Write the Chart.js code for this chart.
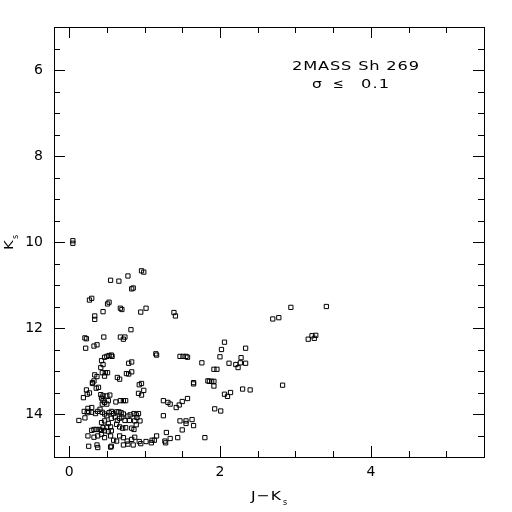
<!DOCTYPE html>
<html>
<head>
<meta charset="utf-8">
<script src="https://cdn.jsdelivr.net/npm/chart.js@4.4.1/dist/chart.umd.min.js"></script>
<style>
  html, body { margin: 0; padding: 0; background: #fff; }
  #wrap { width: 512px; height: 512px; }
</style>
</head>
<body>
<div id="wrap"><canvas id="cmd"></canvas></div>
<script>
// J-Ks colour of each star
const jk = [
  0.05, 0.05, 0.55, 0.66, 0.78, 0.96, 0.99, 0.83, 0.85, 0.27,
  0.30, 0.51, 0.53, 0.68, 0.70, 0.95, 1.02, 0.45, 0.34, 0.34,
  0.82, 1.39, 1.41, 0.21, 0.23, 0.46, 0.68, 0.72, 0.74, 0.22,
  0.33, 0.37, 0.43, 0.47, 0.50, 0.53, 0.56, 0.57, 1.16, 1.15,
  1.47, 1.51, 1.55, 1.57, 0.42, 0.45, 0.79, 0.83, 0.44, 0.48,
  0.51, 0.47, 0.76, 0.79, 0.83, 0.64, 0.67, 0.34, 0.37, 0.31,
  0.33, 0.31, 0.36, 0.39, 0.93, 0.96, 0.23, 0.27, 0.24, 0.19,
  0.42, 0.45, 0.50, 0.54, 0.92, 0.96, 0.99, 0.68, 0.72, 0.75,
  0.62, 0.43, 0.45, 0.47, 0.50, 0.44, 0.52, 0.30, 0.25, 0.20,
  0.24, 0.26, 0.30, 0.35, 0.38, 0.41, 0.13, 0.21, 0.44, 0.47,
  0.50, 0.53, 0.56, 0.59, 0.63, 0.66, 0.69, 0.72, 0.78, 0.81,
  0.86, 0.89, 0.92, 0.90, 0.87, 0.80, 0.56, 0.61, 0.64, 0.67,
  0.70, 0.74, 0.47, 0.52, 0.50, 0.55, 0.43, 0.45, 0.63, 0.67,
  0.71, 0.75, 0.83, 0.86, 0.89, 0.94, 0.30, 0.33, 0.36, 0.40,
  0.43, 0.47, 0.52, 0.56, 0.25, 0.33, 0.38, 0.43, 0.47, 0.55,
  0.59, 0.63, 0.67, 0.72, 0.77, 0.83, 0.87, 0.93, 1.02, 1.09,
  1.13, 1.16, 1.27, 1.28, 1.34, 1.44, 0.26, 0.37, 0.38, 0.55,
  0.56, 0.72, 0.78, 0.85, 1.25, 1.31, 1.34, 1.42, 1.46, 1.50,
  1.57, 1.25, 1.47, 1.55, 1.55, 1.50, 1.29, 1.63, 1.65, 1.80,
  2.94, 3.41, 2.70, 2.78, 3.17, 3.22, 3.25, 3.27, 2.06, 2.02,
  2.34, 2.00, 2.28, 1.76, 2.12, 2.21, 2.24, 2.27, 2.34, 1.92,
  1.96, 1.84, 1.86, 1.89, 1.92, 1.92, 1.65, 1.65, 2.30, 2.40,
  2.83, 2.06, 2.10, 2.14, 1.93, 2.01, 1.10, 0.95
];
// Ks magnitude of each star
const ks = [
  9.97, 10.03, 10.89, 10.91, 10.79, 10.67, 10.70, 11.09, 11.07, 11.35,
  11.31, 11.44, 11.40, 11.54, 11.57, 11.63, 11.54, 11.62, 11.72, 11.80,
  12.04, 11.64, 11.72, 12.23, 12.25, 12.21, 12.21, 12.26, 12.21, 12.47,
  12.42, 12.39, 12.76, 12.68, 12.66, 12.64, 12.63, 12.66, 12.63, 12.60,
  12.66, 12.66, 12.66, 12.68, 12.92, 12.85, 12.82, 12.79, 13.04, 13.04,
  13.04, 13.12, 13.06, 13.07, 13.02, 13.15, 13.19, 13.09, 13.13, 13.27,
  13.23, 13.29, 13.40, 13.38, 13.32, 13.29, 13.44, 13.51, 13.54, 13.62,
  13.55, 13.58, 13.58, 13.56, 13.52, 13.56, 13.45, 13.69, 13.69, 13.69,
  13.72, 13.63, 13.69, 13.73, 13.77, 13.77, 13.69, 13.85, 13.87, 13.94,
  13.97, 13.94, 13.96, 13.99, 13.94, 13.89, 14.15, 14.09, 13.96, 14.00,
  14.04, 13.97, 13.94, 13.99, 13.95, 13.95, 13.97, 14.00, 14.05, 14.02,
  13.99, 14.02, 13.99, 14.08, 14.16, 14.15, 14.10, 14.07, 14.15, 14.10,
  14.07, 14.15, 14.16, 14.22, 14.30, 14.30, 14.20, 14.32, 14.24, 14.30,
  14.33, 14.32, 14.33, 14.36, 14.25, 14.16, 14.38, 14.36, 14.36, 14.36,
  14.38, 14.39, 14.41, 14.39, 14.51, 14.54, 14.51, 14.47, 14.55, 14.51,
  14.61, 14.63, 14.51, 14.55, 14.63, 14.59, 14.54, 14.64, 14.64, 14.67,
  14.61, 14.51, 14.63, 14.67, 14.57, 14.55, 14.75, 14.72, 14.78, 14.77,
  14.75, 14.72, 14.70, 14.72, 13.69, 13.73, 13.77, 13.85, 13.79, 13.71,
  13.64, 14.04, 14.16, 14.16, 14.22, 14.37, 14.43, 14.13, 14.27, 14.55,
  11.52, 11.50, 11.79, 11.76, 12.26, 12.18, 12.24, 12.17, 12.33, 12.50,
  12.47, 12.67, 12.69, 12.81, 12.82, 12.85, 12.92, 12.81, 12.82, 12.96,
  12.96, 13.23, 13.24, 13.24, 13.24, 13.35, 13.27, 13.30, 13.42, 13.44,
  13.33, 13.54, 13.59, 13.50, 13.88, 13.93, 14.61, 14.69
];

const xTicks = [0, 2, 4];
const yTicks = [6, 8, 10, 12, 14];

const FONT = '"DejaVu Sans", sans-serif';

// wide, plotter-like text: stretch glyphs a bit, spread the rest with spacing
function wideText(ctx, str, x, y, width, sx) {
  ctx.save();
  ctx.translate(x, y);
  ctx.scale(sx, 1);
  ctx.letterSpacing = '0px';
  const w = ctx.measureText(str).width;
  const gap = str.length > 1 ? Math.max(0, (width / sx - w) / (str.length - 1)) : 0;
  ctx.letterSpacing = gap + 'px';
  ctx.fillText(str, 0, 0);
  ctx.restore();
}

const framePlugin = {
  id: 'frame',
  afterDraw(chart) {
    const { ctx, chartArea: a } = chart;
    const xs = chart.scales.x, ys = chart.scales.y;
    ctx.save();
    ctx.strokeStyle = '#000';
    ctx.lineWidth = 1;
    ctx.strokeRect(Math.round(a.left) + 0.5, Math.round(a.top) + 0.5,
                   Math.round(a.right - a.left), Math.round(a.bottom - a.top));

    ctx.beginPath();
    // x ticks, bottom and top, pointing inward
    for (let i = 0; i <= 11; i++) {
      const v = i * 0.5;
      const len = v % 2 === 0 ? 11 : 6;
      const px = Math.round(xs.getPixelForValue(v)) + 0.5;
      ctx.moveTo(px, a.bottom);
      ctx.lineTo(px, a.bottom - len);
      ctx.moveTo(px, a.top);
      ctx.lineTo(px, a.top + len);
    }
    // y ticks, left and right
    for (let i = 1; i < 20; i++) {
      const v = 5 + i * 0.5;
      const len = v % 2 === 0 ? 11 : 6;
      const py = Math.round(ys.getPixelForValue(v)) + 0.5;
      ctx.moveTo(a.left, py);
      ctx.lineTo(a.left + len, py);
      ctx.moveTo(a.right, py);
      ctx.lineTo(a.right - len, py);
    }
    ctx.stroke();

    ctx.fillStyle = '#000';
    ctx.textAlign = 'left';
    ctx.textBaseline = 'alphabetic';

    // cluster label
    ctx.font = '13px ' + FONT;
    wideText(ctx, '2MASS Sh 269', 292, 70, 127, 1.25);
    wideText(ctx, '\u03C3', 312, 88, 9, 1.2);
    wideText(ctx, '\u2264', 333, 88, 11, 1.0);
    wideText(ctx, '0.1', 361, 88, 28, 1.25);

    // x axis title  J-Ks
    wideText(ctx, 'J\u2212K', 251, 500, 30, 1.2);
    ctx.font = '8px ' + FONT;
    ctx.fillText('s', 283, 505);

    // y axis title  Ks (rotated)
    ctx.save();
    ctx.translate(13, 250);
    ctx.rotate(-Math.PI / 2);
    ctx.font = '13px ' + FONT;
    wideText(ctx, 'K', 0, 0, 10, 1.15);
    ctx.font = '8px ' + FONT;
    ctx.fillText('s', 11, 5);
    ctx.restore();

    ctx.restore();
  }
};

new Chart(document.getElementById('cmd'), {
  type: 'scatter',
  data: {
    datasets: [{
      data: jk.map((v, i) => ({ x: v, y: ks[i] })),
      pointStyle: 'rect',
      pointRadius: 3,
      pointHoverRadius: 3,
      borderWidth: 1,
      borderColor: '#000',
      backgroundColor: 'rgba(0,0,0,0)'
    }]
  },
  options: {
    responsive: true,
    maintainAspectRatio: false,
    animation: false,
    events: [],
    layout: { padding: { left: 0, top: 27, right: 28, bottom: 0 } },
    plugins: { legend: { display: false }, tooltip: { enabled: false } },
    scales: {
      x: {
        type: 'linear',
        min: -0.2,
        max: 5.5,
        grid: { display: false, drawTicks: false },
        border: { display: false },
        ticks: {
          color: '#000',
          font: { family: FONT, size: 14 },
          padding: 7,
          autoSkip: false,
          maxRotation: 0
        },
        afterBuildTicks: s => { s.ticks = xTicks.map(v => ({ value: v })); },
        afterFit: s => { s.height = 55; }
      },
      y: {
        type: 'linear',
        reverse: true,
        min: 5,
        max: 15,
        grid: { display: false, drawTicks: false },
        border: { display: false },
        ticks: {
          color: '#000',
          font: { family: FONT, size: 14 },
          padding: 11,
          autoSkip: false
        },
        afterBuildTicks: s => { s.ticks = yTicks.map(v => ({ value: v })); },
        afterFit: s => { s.width = 54; }
      }
    }
  },
  plugins: [framePlugin]
});
</script>
</body>
</html>
